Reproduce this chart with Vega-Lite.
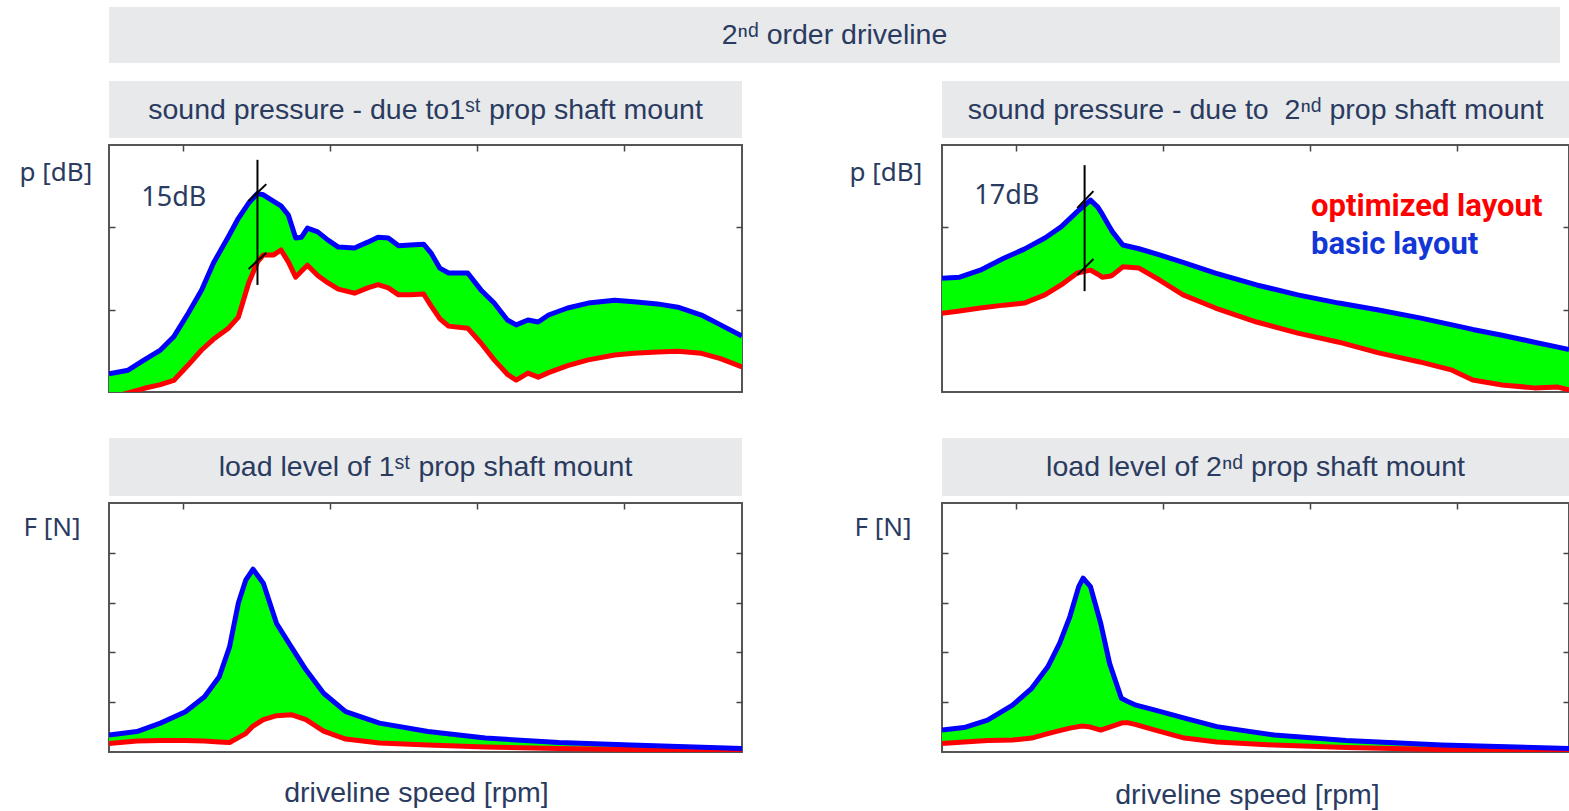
{
  "$schema": "https://vega.github.io/schema/vega-lite/v6.json",
  "background": "white",
  "padding": {"left": 18, "top": 7, "right": 0, "bottom": 0},
  "config": {
    "view": {"stroke": "#555555", "strokeWidth": 2},
    "axis": {"grid": false, "labels": false, "domain": false, "ticks": true, "tickSize": -6, "tickColor": "#444444", "tickWidth": 1.5}
  },
  "datasets": {
    "p1": [
      {"rpm": 500, "basic": 4.4, "optimized": -1.5},
      {"rpm": 630, "basic": 5.3, "optimized": -0.2},
      {"rpm": 740, "basic": 7.8, "optimized": 0.9},
      {"rpm": 850, "basic": 10.2, "optimized": 1.8},
      {"rpm": 940, "basic": 13.4, "optimized": 2.8},
      {"rpm": 1040, "basic": 19.2, "optimized": 6.6},
      {"rpm": 1130, "basic": 24.8, "optimized": 10.2},
      {"rpm": 1210, "basic": 31.3, "optimized": 12.8},
      {"rpm": 1310, "basic": 37.6, "optimized": 15.4},
      {"rpm": 1380, "basic": 42.2, "optimized": 18.2},
      {"rpm": 1450, "basic": 45.9, "optimized": 26.5},
      {"rpm": 1510, "basic": 48.2, "optimized": 31.6},
      {"rpm": 1550, "basic": 47.9, "optimized": 33.3},
      {"rpm": 1620, "basic": 46.3, "optimized": 33.3},
      {"rpm": 1670, "basic": 45.2, "optimized": 34.5},
      {"rpm": 1720, "basic": 43.0, "optimized": 31.6},
      {"rpm": 1770, "basic": 37.4, "optimized": 27.9},
      {"rpm": 1810, "basic": 37.6, "optimized": 29.4},
      {"rpm": 1850, "basic": 39.8, "optimized": 30.8},
      {"rpm": 1920, "basic": 38.9, "optimized": 28.3},
      {"rpm": 1990, "basic": 36.9, "optimized": 26.5},
      {"rpm": 2060, "basic": 35.2, "optimized": 25.0},
      {"rpm": 2170, "basic": 35.0, "optimized": 24.0},
      {"rpm": 2260, "basic": 36.4, "optimized": 25.3},
      {"rpm": 2330, "basic": 37.6, "optimized": 26.1},
      {"rpm": 2400, "basic": 37.4, "optimized": 25.3},
      {"rpm": 2470, "basic": 35.5, "optimized": 23.6},
      {"rpm": 2550, "basic": 35.7, "optimized": 23.6},
      {"rpm": 2640, "basic": 35.9, "optimized": 23.8},
      {"rpm": 2690, "basic": 33.8, "optimized": 21.0},
      {"rpm": 2750, "basic": 30.1, "optimized": 17.8},
      {"rpm": 2810, "basic": 28.9, "optimized": 16.0},
      {"rpm": 2940, "basic": 28.9, "optimized": 15.5},
      {"rpm": 3030, "basic": 24.8, "optimized": 11.9},
      {"rpm": 3120, "basic": 21.6, "optimized": 7.8},
      {"rpm": 3210, "basic": 17.5, "optimized": 4.3},
      {"rpm": 3270, "basic": 16.3, "optimized": 2.9},
      {"rpm": 3350, "basic": 17.5, "optimized": 4.6},
      {"rpm": 3420, "basic": 17.0, "optimized": 3.6},
      {"rpm": 3490, "basic": 18.7, "optimized": 4.7},
      {"rpm": 3620, "basic": 20.4, "optimized": 6.4},
      {"rpm": 3760, "basic": 21.6, "optimized": 7.8},
      {"rpm": 3940, "basic": 22.3, "optimized": 9.0},
      {"rpm": 4070, "basic": 21.9, "optimized": 9.4},
      {"rpm": 4230, "basic": 21.4, "optimized": 9.7},
      {"rpm": 4370, "basic": 20.6, "optimized": 9.9},
      {"rpm": 4530, "basic": 18.7, "optimized": 9.4},
      {"rpm": 4660, "basic": 16.3, "optimized": 8.1},
      {"rpm": 4806, "basic": 13.6, "optimized": 6.1}
    ],
    "p2": [
      {"rpm": 500, "basic": 27.6, "optimized": 19.1},
      {"rpm": 620, "basic": 27.9, "optimized": 19.7},
      {"rpm": 760, "basic": 29.6, "optimized": 20.4},
      {"rpm": 920, "basic": 32.5, "optimized": 21.1},
      {"rpm": 1060, "basic": 34.7, "optimized": 21.6},
      {"rpm": 1200, "basic": 37.4, "optimized": 23.6},
      {"rpm": 1310, "basic": 40.1, "optimized": 26.0},
      {"rpm": 1420, "basic": 43.8, "optimized": 28.9},
      {"rpm": 1510, "basic": 46.6, "optimized": 29.6},
      {"rpm": 1560, "basic": 44.9, "optimized": 28.6},
      {"rpm": 1590, "basic": 43.2, "optimized": 27.9},
      {"rpm": 1640, "basic": 40.1, "optimized": 28.1},
      {"rpm": 1660, "basic": 38.9, "optimized": 28.4},
      {"rpm": 1730, "basic": 35.7, "optimized": 30.4},
      {"rpm": 1840, "basic": 34.8, "optimized": 30.1},
      {"rpm": 1980, "basic": 33.3, "optimized": 27.2},
      {"rpm": 2140, "basic": 31.5, "optimized": 23.6},
      {"rpm": 2360, "basic": 28.9, "optimized": 20.4},
      {"rpm": 2640, "basic": 26.0, "optimized": 17.0},
      {"rpm": 2920, "basic": 23.6, "optimized": 14.3},
      {"rpm": 3200, "basic": 21.6, "optimized": 12.1},
      {"rpm": 3470, "basic": 19.9, "optimized": 9.5},
      {"rpm": 3750, "basic": 18.0, "optimized": 7.3},
      {"rpm": 3970, "basic": 16.3, "optimized": 5.3},
      {"rpm": 4110, "basic": 15.2, "optimized": 2.9},
      {"rpm": 4310, "basic": 13.8, "optimized": 1.7},
      {"rpm": 4530, "basic": 12.1, "optimized": 1.0},
      {"rpm": 4690, "basic": 10.9, "optimized": 1.2},
      {"rpm": 4765, "basic": 10.3, "optimized": 0.5}
    ],
    "p3": [
      {"rpm": 500, "basic": 34, "optimized": 17},
      {"rpm": 690, "basic": 41, "optimized": 22},
      {"rpm": 850, "basic": 58, "optimized": 23},
      {"rpm": 1020, "basic": 81, "optimized": 23},
      {"rpm": 1150, "basic": 111, "optimized": 22},
      {"rpm": 1250, "basic": 151, "optimized": 20},
      {"rpm": 1320, "basic": 211, "optimized": 19},
      {"rpm": 1380, "basic": 299, "optimized": 29},
      {"rpm": 1430, "basic": 345, "optimized": 37},
      {"rpm": 1480, "basic": 367, "optimized": 52},
      {"rpm": 1550, "basic": 339, "optimized": 65},
      {"rpm": 1640, "basic": 258, "optimized": 73},
      {"rpm": 1740, "basic": 211, "optimized": 75},
      {"rpm": 1840, "basic": 165, "optimized": 65},
      {"rpm": 1960, "basic": 118, "optimized": 42},
      {"rpm": 2110, "basic": 81, "optimized": 26},
      {"rpm": 2340, "basic": 58, "optimized": 18},
      {"rpm": 2670, "basic": 41, "optimized": 14},
      {"rpm": 3060, "basic": 28, "optimized": 10},
      {"rpm": 3560, "basic": 19, "optimized": 7},
      {"rpm": 4050, "basic": 14, "optimized": 5},
      {"rpm": 4806, "basic": 7, "optimized": 3}
    ],
    "p4": [
      {"rpm": 500, "basic": 44, "optimized": 17},
      {"rpm": 650, "basic": 49, "optimized": 20},
      {"rpm": 810, "basic": 64, "optimized": 23},
      {"rpm": 980, "basic": 94, "optimized": 24},
      {"rpm": 1110, "basic": 128, "optimized": 28},
      {"rpm": 1220, "basic": 171, "optimized": 37},
      {"rpm": 1300, "basic": 218, "optimized": 43},
      {"rpm": 1370, "basic": 272, "optimized": 48},
      {"rpm": 1430, "basic": 332, "optimized": 51},
      {"rpm": 1460, "basic": 349, "optimized": 52},
      {"rpm": 1510, "basic": 332, "optimized": 50},
      {"rpm": 1580, "basic": 258, "optimized": 44},
      {"rpm": 1640, "basic": 178, "optimized": 50},
      {"rpm": 1720, "basic": 108, "optimized": 58},
      {"rpm": 1760, "basic": 102, "optimized": 59},
      {"rpm": 1820, "basic": 94, "optimized": 55},
      {"rpm": 1950, "basic": 84, "optimized": 44},
      {"rpm": 2150, "basic": 68, "optimized": 28},
      {"rpm": 2370, "basic": 51, "optimized": 20},
      {"rpm": 2760, "basic": 34, "optimized": 14},
      {"rpm": 3250, "basic": 23, "optimized": 9},
      {"rpm": 3900, "basic": 14, "optimized": 5},
      {"rpm": 4765, "basic": 7, "optimized": 3}
    ],
    "m1": [
      {"rpm": 1510, "rpm2": 1510, "dB": 26.0, "dB2": 56.4},
      {"rpm": 1450, "rpm2": 1570, "dB": 46.4, "dB2": 50.5},
      {"rpm": 1450, "rpm2": 1570, "dB": 29.9, "dB2": 33.8}
    ],
    "m2": [
      {"rpm": 1470, "rpm2": 1470, "dB": 24.5, "dB2": 55.1},
      {"rpm": 1420, "rpm2": 1530, "dB": 44.7, "dB2": 48.8},
      {"rpm": 1420, "rpm2": 1530, "dB": 28.4, "dB2": 32.3}
    ]
  },
  "spacing": 18,
  "bounds": "flush",
  "vconcat": [
    {
      "width": 1451, "height": 56,
      "view": {"stroke": null},
      "data": {"values": [{"label": "2ⁿᵈ order driveline"}]},
      "layer": [
        {"mark": {"type": "rect", "color": "#e8e9eb"}, "encoding": {}},
        {"mark": {"type": "text", "font": "Liberation Sans", "fontSize": 28.5, "color": "#2a3b5f", "align": "center", "baseline": "middle"}, "encoding": {"text": {"field": "label"}}}
      ]
    },
    {
      "columns": 2,
      "spacing": {"row": 7, "column": 200},
      "bounds": "flush",
      "align": "each",
      "concat": [
        {
          "width": 633, "height": 57,
          "view": {"stroke": null},
          "data": {"values": [{"label": "sound pressure - due to1ˢᵗ prop shaft mount"}]},
          "layer": [
            {"mark": {"type": "rect", "color": "#e8e9eb"}, "encoding": {}},
            {"mark": {"type": "text", "font": "Liberation Sans", "fontSize": 28.5, "color": "#2a3b5f", "align": "center", "baseline": "middle"}, "encoding": {"text": {"field": "label"}}}
          ]
        },
        {
          "width": 627, "height": 57,
          "view": {"stroke": null},
          "data": {"values": [{"label": "sound pressure - due to \u00a02ⁿᵈ prop shaft mount"}]},
          "layer": [
            {"mark": {"type": "rect", "color": "#e8e9eb"}, "encoding": {}},
            {"mark": {"type": "text", "font": "Liberation Sans", "fontSize": 28.5, "color": "#2a3b5f", "align": "center", "baseline": "middle"}, "encoding": {"text": {"field": "label"}}}
          ]
        },
        {
          "width": 633, "height": 247,
          "data": {"name": "p1"},
          "layer": [
            {"mark": {"type": "area", "color": "#00ff00", "orient": "vertical", "clip": true},
             "encoding": {
               "x": {"field": "rpm", "type": "quantitative", "scale": {"domain": [500, 4806]}, "axis": {"orient": "top", "values": [1000, 2000, 3000, 4000], "title": null}},
               "y": {"field": "basic", "type": "quantitative", "scale": {"domain": [0, 60]}, "axis": {"orient": "left", "values": [20, 40], "title": "p [dB]", "titleAngle": 0, "titleAlign": "left", "titleBaseline": "middle", "titleX": -90, "titleY": 27, "titleFont": "Noto Sans", "titleFontSize": 26, "titleFontWeight": "normal", "titleColor": "#2a3b5f"}},
               "y2": {"field": "optimized"}
             }},
            {"mark": {"type": "line", "color": "#ff0000", "strokeWidth": 5, "strokeJoin": "round", "clip": true},
             "encoding": {
               "x": {"field": "rpm", "type": "quantitative", "scale": {"domain": [500, 4806]}, "axis": null},
               "y": {"field": "optimized", "type": "quantitative", "scale": {"domain": [0, 60]}, "axis": {"orient": "right", "values": [20, 40], "title": null}}
             }},
            {"mark": {"type": "line", "color": "#0000ff", "strokeWidth": 5, "strokeJoin": "round", "clip": true},
             "encoding": {
               "x": {"field": "rpm", "type": "quantitative", "scale": {"domain": [500, 4806]}, "axis": null},
               "y": {"field": "basic", "type": "quantitative", "scale": {"domain": [0, 60]}, "axis": null}
             }},
            {"data": {"name": "m1"},
             "mark": {"type": "rule", "color": "#000000", "strokeWidth": 2},
             "encoding": {
               "x": {"field": "rpm", "type": "quantitative", "scale": {"domain": [500, 4806]}, "axis": null},
               "x2": {"field": "rpm2"},
               "y": {"field": "dB", "type": "quantitative", "scale": {"domain": [0, 60]}, "axis": null},
               "y2": {"field": "dB2"}
             }},
            {"data": {"values": [{"rpm": 720, "dB": 47.1, "label": "15dB"}]},
             "mark": {"type": "text", "align": "left", "baseline": "middle", "font": "Noto Sans", "fontSize": 27, "color": "#2a3b5f"},
             "encoding": {
               "x": {"field": "rpm", "type": "quantitative", "scale": {"domain": [500, 4806]}, "axis": null},
               "y": {"field": "dB", "type": "quantitative", "scale": {"domain": [0, 60]}, "axis": null},
               "text": {"field": "label"}
             }}
          ],
          "resolve": {"axis": {"x": "independent", "y": "independent"}}
        },
        {
          "width": 627, "height": 247,
          "data": {"name": "p2"},
          "layer": [
            {"mark": {"type": "area", "color": "#00ff00", "orient": "vertical", "clip": true},
             "encoding": {
               "x": {"field": "rpm", "type": "quantitative", "scale": {"domain": [500, 4765]}, "axis": {"orient": "top", "values": [1000, 2000, 3000, 4000], "title": null}},
               "y": {"field": "basic", "type": "quantitative", "scale": {"domain": [0, 60]}, "axis": {"orient": "left", "values": [20, 40], "title": "p [dB]", "titleAngle": 0, "titleAlign": "left", "titleBaseline": "middle", "titleX": -93, "titleY": 27, "titleFont": "Noto Sans", "titleFontSize": 26, "titleFontWeight": "normal", "titleColor": "#2a3b5f"}},
               "y2": {"field": "optimized"}
             }},
            {"mark": {"type": "line", "color": "#ff0000", "strokeWidth": 5, "strokeJoin": "round", "clip": true},
             "encoding": {
               "x": {"field": "rpm", "type": "quantitative", "scale": {"domain": [500, 4765]}, "axis": null},
               "y": {"field": "optimized", "type": "quantitative", "scale": {"domain": [0, 60]}, "axis": {"orient": "right", "values": [20, 40], "title": null}}
             }},
            {"mark": {"type": "line", "color": "#0000ff", "strokeWidth": 5, "strokeJoin": "round", "clip": true},
             "encoding": {
               "x": {"field": "rpm", "type": "quantitative", "scale": {"domain": [500, 4765]}, "axis": null},
               "y": {"field": "basic", "type": "quantitative", "scale": {"domain": [0, 60]}, "axis": null}
             }},
            {"data": {"name": "m2"},
             "mark": {"type": "rule", "color": "#000000", "strokeWidth": 2},
             "encoding": {
               "x": {"field": "rpm", "type": "quantitative", "scale": {"domain": [500, 4765]}, "axis": null},
               "x2": {"field": "rpm2"},
               "y": {"field": "dB", "type": "quantitative", "scale": {"domain": [0, 60]}, "axis": null},
               "y2": {"field": "dB2"}
             }},
            {"data": {"values": [{"rpm": 720, "dB": 47.6, "label": "17dB"}]},
             "mark": {"type": "text", "align": "left", "baseline": "middle", "font": "Noto Sans", "fontSize": 27, "color": "#2a3b5f"},
             "encoding": {
               "x": {"field": "rpm", "type": "quantitative", "scale": {"domain": [500, 4765]}, "axis": null},
               "y": {"field": "dB", "type": "quantitative", "scale": {"domain": [0, 60]}, "axis": null},
               "text": {"field": "label"}
             }},
            {"data": {"values": [{"rpm": 3010, "dB": 44.9, "label": "optimized layout"}, {"rpm": 3010, "dB": 35.7, "label": "basic layout"}]},
             "mark": {"type": "text", "align": "left", "baseline": "middle", "font": "Roboto", "fontSize": 31, "fontWeight": "bold"},
             "encoding": {
               "x": {"field": "rpm", "type": "quantitative", "scale": {"domain": [500, 4765]}, "axis": null},
               "y": {"field": "dB", "type": "quantitative", "scale": {"domain": [0, 60]}, "axis": null},
               "text": {"field": "label"},
               "color": {"field": "label", "type": "nominal", "scale": {"domain": ["optimized layout", "basic layout"], "range": ["#ff0000", "#1237d6"]}, "legend": null}
             }}
          ],
          "resolve": {"axis": {"x": "independent", "y": "independent"}}
        },
        {
          "width": 633, "height": 97,
          "view": {"stroke": null},
          "data": {"values": [{"label": "load level of 1ˢᵗ prop shaft mount"}]},
          "layer": [
            {"mark": {"type": "rect", "color": "#e8e9eb", "yOffset": 39}, "encoding": {}},
            {"mark": {"type": "text", "font": "Liberation Sans", "fontSize": 28.5, "color": "#2a3b5f", "align": "center", "baseline": "middle", "dy": 19.5}, "encoding": {"text": {"field": "label"}}}
          ]
        },
        {
          "width": 627, "height": 97,
          "view": {"stroke": null},
          "data": {"values": [{"label": "load level of 2ⁿᵈ prop shaft mount"}]},
          "layer": [
            {"mark": {"type": "rect", "color": "#e8e9eb", "yOffset": 39}, "encoding": {}},
            {"mark": {"type": "text", "font": "Liberation Sans", "fontSize": 28.5, "color": "#2a3b5f", "align": "center", "baseline": "middle", "dy": 19.5}, "encoding": {"text": {"field": "label"}}}
          ]
        },
        {
          "width": 633, "height": 249,
          "data": {"name": "p3"},
          "layer": [
            {"mark": {"type": "area", "color": "#00ff00", "orient": "vertical", "clip": true},
             "encoding": {
               "x": {"field": "rpm", "type": "quantitative", "scale": {"domain": [500, 4806]}, "axis": {"orient": "top", "values": [1000, 2000, 3000, 4000], "title": null}},
               "y": {"field": "basic", "type": "quantitative", "scale": {"domain": [0, 500]}, "axis": {"orient": "left", "values": [100, 200, 300, 400], "title": "F [N]", "titleAngle": 0, "titleAlign": "left", "titleBaseline": "middle", "titleX": -86, "titleY": 24, "titleFont": "Noto Sans", "titleFontSize": 26, "titleFontWeight": "normal", "titleColor": "#2a3b5f"}},
               "y2": {"field": "optimized"}
             }},
            {"mark": {"type": "line", "color": "#ff0000", "strokeWidth": 5, "strokeJoin": "round", "clip": true},
             "encoding": {
               "x": {"field": "rpm", "type": "quantitative", "scale": {"domain": [500, 4806]}, "axis": {"orient": "bottom", "ticks": false, "title": "driveline speed [rpm]", "titleAlign": "center", "titleBaseline": "middle", "titleX": 307, "titleY": 40, "titleFont": "Liberation Sans", "titleFontSize": 28.5, "titleFontWeight": "normal", "titleColor": "#2a3b5f"}},
               "y": {"field": "optimized", "type": "quantitative", "scale": {"domain": [0, 500]}, "axis": {"orient": "right", "values": [100, 200, 300, 400], "title": null}}
             }},
            {"mark": {"type": "line", "color": "#0000ff", "strokeWidth": 5, "strokeJoin": "round", "clip": true},
             "encoding": {
               "x": {"field": "rpm", "type": "quantitative", "scale": {"domain": [500, 4806]}, "axis": null},
               "y": {"field": "basic", "type": "quantitative", "scale": {"domain": [0, 500]}, "axis": null}
             }}
          ],
          "resolve": {"axis": {"x": "independent", "y": "independent"}}
        },
        {
          "width": 627, "height": 249,
          "data": {"name": "p4"},
          "layer": [
            {"mark": {"type": "area", "color": "#00ff00", "orient": "vertical", "clip": true},
             "encoding": {
               "x": {"field": "rpm", "type": "quantitative", "scale": {"domain": [500, 4765]}, "axis": {"orient": "top", "values": [1000, 2000, 3000, 4000], "title": null}},
               "y": {"field": "basic", "type": "quantitative", "scale": {"domain": [0, 500]}, "axis": {"orient": "left", "values": [100, 200, 300, 400], "title": "F [N]", "titleAngle": 0, "titleAlign": "left", "titleBaseline": "middle", "titleX": -88, "titleY": 24, "titleFont": "Noto Sans", "titleFontSize": 26, "titleFontWeight": "normal", "titleColor": "#2a3b5f"}},
               "y2": {"field": "optimized"}
             }},
            {"mark": {"type": "line", "color": "#ff0000", "strokeWidth": 5, "strokeJoin": "round", "clip": true},
             "encoding": {
               "x": {"field": "rpm", "type": "quantitative", "scale": {"domain": [500, 4765]}, "axis": {"orient": "bottom", "ticks": false, "title": "driveline speed [rpm]", "titleAlign": "center", "titleBaseline": "middle", "titleX": 305, "titleY": 42, "titleFont": "Liberation Sans", "titleFontSize": 28.5, "titleFontWeight": "normal", "titleColor": "#2a3b5f"}},
               "y": {"field": "optimized", "type": "quantitative", "scale": {"domain": [0, 500]}, "axis": {"orient": "right", "values": [100, 200, 300, 400], "title": null}}
             }},
            {"mark": {"type": "line", "color": "#0000ff", "strokeWidth": 5, "strokeJoin": "round", "clip": true},
             "encoding": {
               "x": {"field": "rpm", "type": "quantitative", "scale": {"domain": [500, 4765]}, "axis": null},
               "y": {"field": "basic", "type": "quantitative", "scale": {"domain": [0, 500]}, "axis": null}
             }}
          ],
          "resolve": {"axis": {"x": "independent", "y": "independent"}}
        }
      ]
    }
  ]
}
